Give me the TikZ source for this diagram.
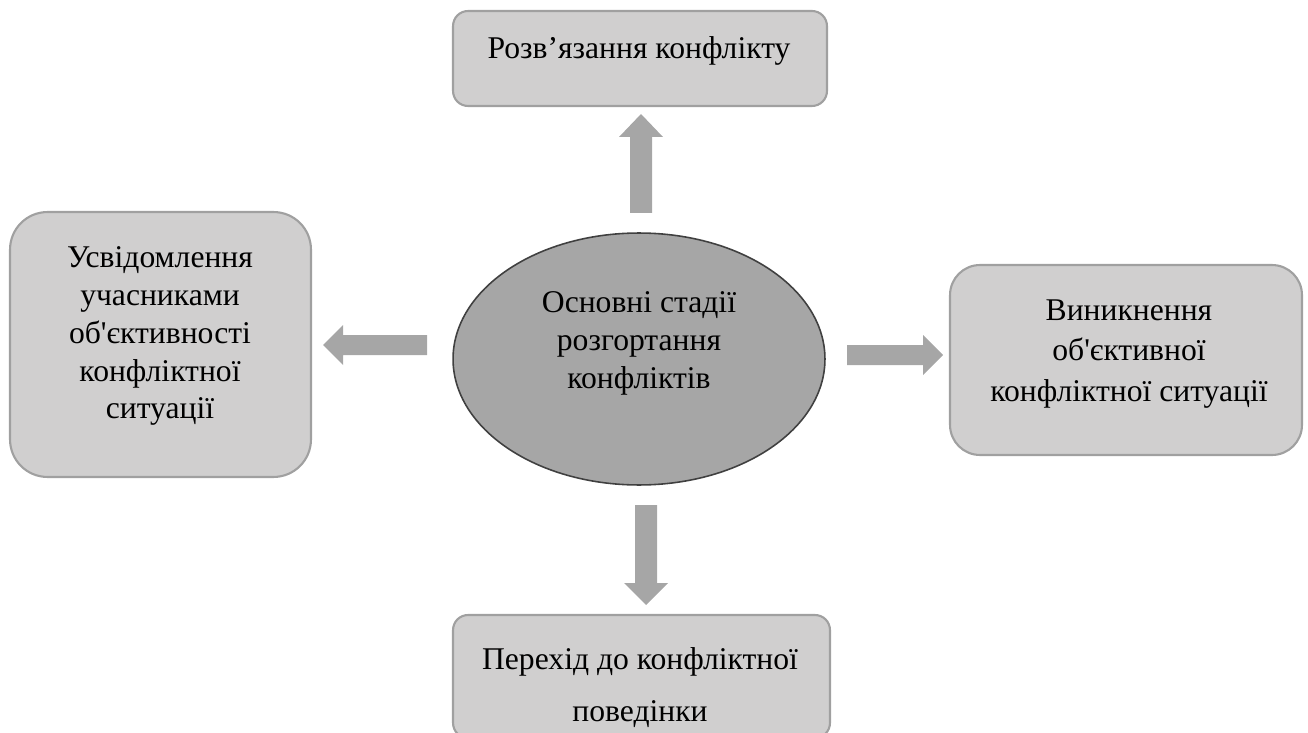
\documentclass[tikz,border=0pt]{standalone}
\usepackage{fontspec}
\setmainfont{Liberation Serif}
\usetikzlibrary{shapes.geometric}

\definecolor{boxgray}{HTML}{D0CFCF}
\definecolor{edgegray}{HTML}{A0A0A0}
\definecolor{hubgray}{HTML}{A6A6A6}
\definecolor{hubedge}{HTML}{404040}

\begin{document}
\begin{tikzpicture}[x=0.02cm,y=-0.02cm,
  stagebox/.style={draw=edgegray, fill=boxgray, line width=1.2pt, inner sep=0pt},
  stagetext/.style={align=center, inner sep=0pt, font=\rmfamily\fontsize{18}{21.6}\selectfont},
  hub/.style={ellipse, draw=hubedge, fill=hubgray, line width=0.9pt, inner sep=0pt,
              minimum width=7.44cm, minimum height=5.04cm},
  flow/.style={fill=hubgray}]

\useasboundingbox (0,0) rectangle (1308,733);

% centre ellipse
\node[hub] (hub) at (639,359) {};
\node[stagetext] (hubtext) at (639,343) {Основні стадії\\розгортання\\конфліктів};

% stage boxes
\node[stagebox, rounded corners=0.3cm, minimum width=7.48cm, minimum height=1.9cm] (resolve) at (640,58.5) {};
\node[stagetext] (resolvetext) at (639,51) {Розв’язання конфлікту};

\node[stagebox, rounded corners=0.75cm, minimum width=6.02cm, minimum height=5.3cm] (aware) at (160.5,344.5) {};
\node[stagetext] (awaretext) at (160,336) {Усвідомлення\\учасниками\\об\textquotesingle єктивності\\конфліктної\\ситуації};

\node[stagebox, rounded corners=0.6cm, minimum width=7.04cm, minimum height=3.8cm] (arise) at (1126,360) {};
\node[stagetext, font=\rmfamily\fontsize{18}{23}\selectfont] (arisetext) at (1129,354) {Виникнення\\об\textquotesingle єктивної\\конфліктної ситуації};

\node[stagebox, rounded corners=0.3cm, minimum width=7.54cm, minimum height=2.46cm] (behave) at (641.5,676.5) {};
\node[stagetext, font=\rmfamily\fontsize{18}{29.6}\selectfont] (behavetext) at (640,688) {Перехід до конфліктної\\поведінки};

% block arrows
\fill[flow] (630,213) -- (630,137) -- (619,137) -- (641,114) -- (663,137) -- (652,137) -- (652,213) -- cycle;
\fill[flow] (427,335) -- (343,335) -- (343,325) -- (323,345) -- (343,365) -- (343,355) -- (427,355) -- cycle;
\fill[flow] (847,345) -- (923,345) -- (923,335) -- (943,355) -- (923,375) -- (923,365) -- (847,365) -- cycle;
\fill[flow] (635,505) -- (657,505) -- (657,583) -- (668,583) -- (646,605) -- (624,583) -- (635,583) -- cycle;

\end{tikzpicture}
\end{document}
